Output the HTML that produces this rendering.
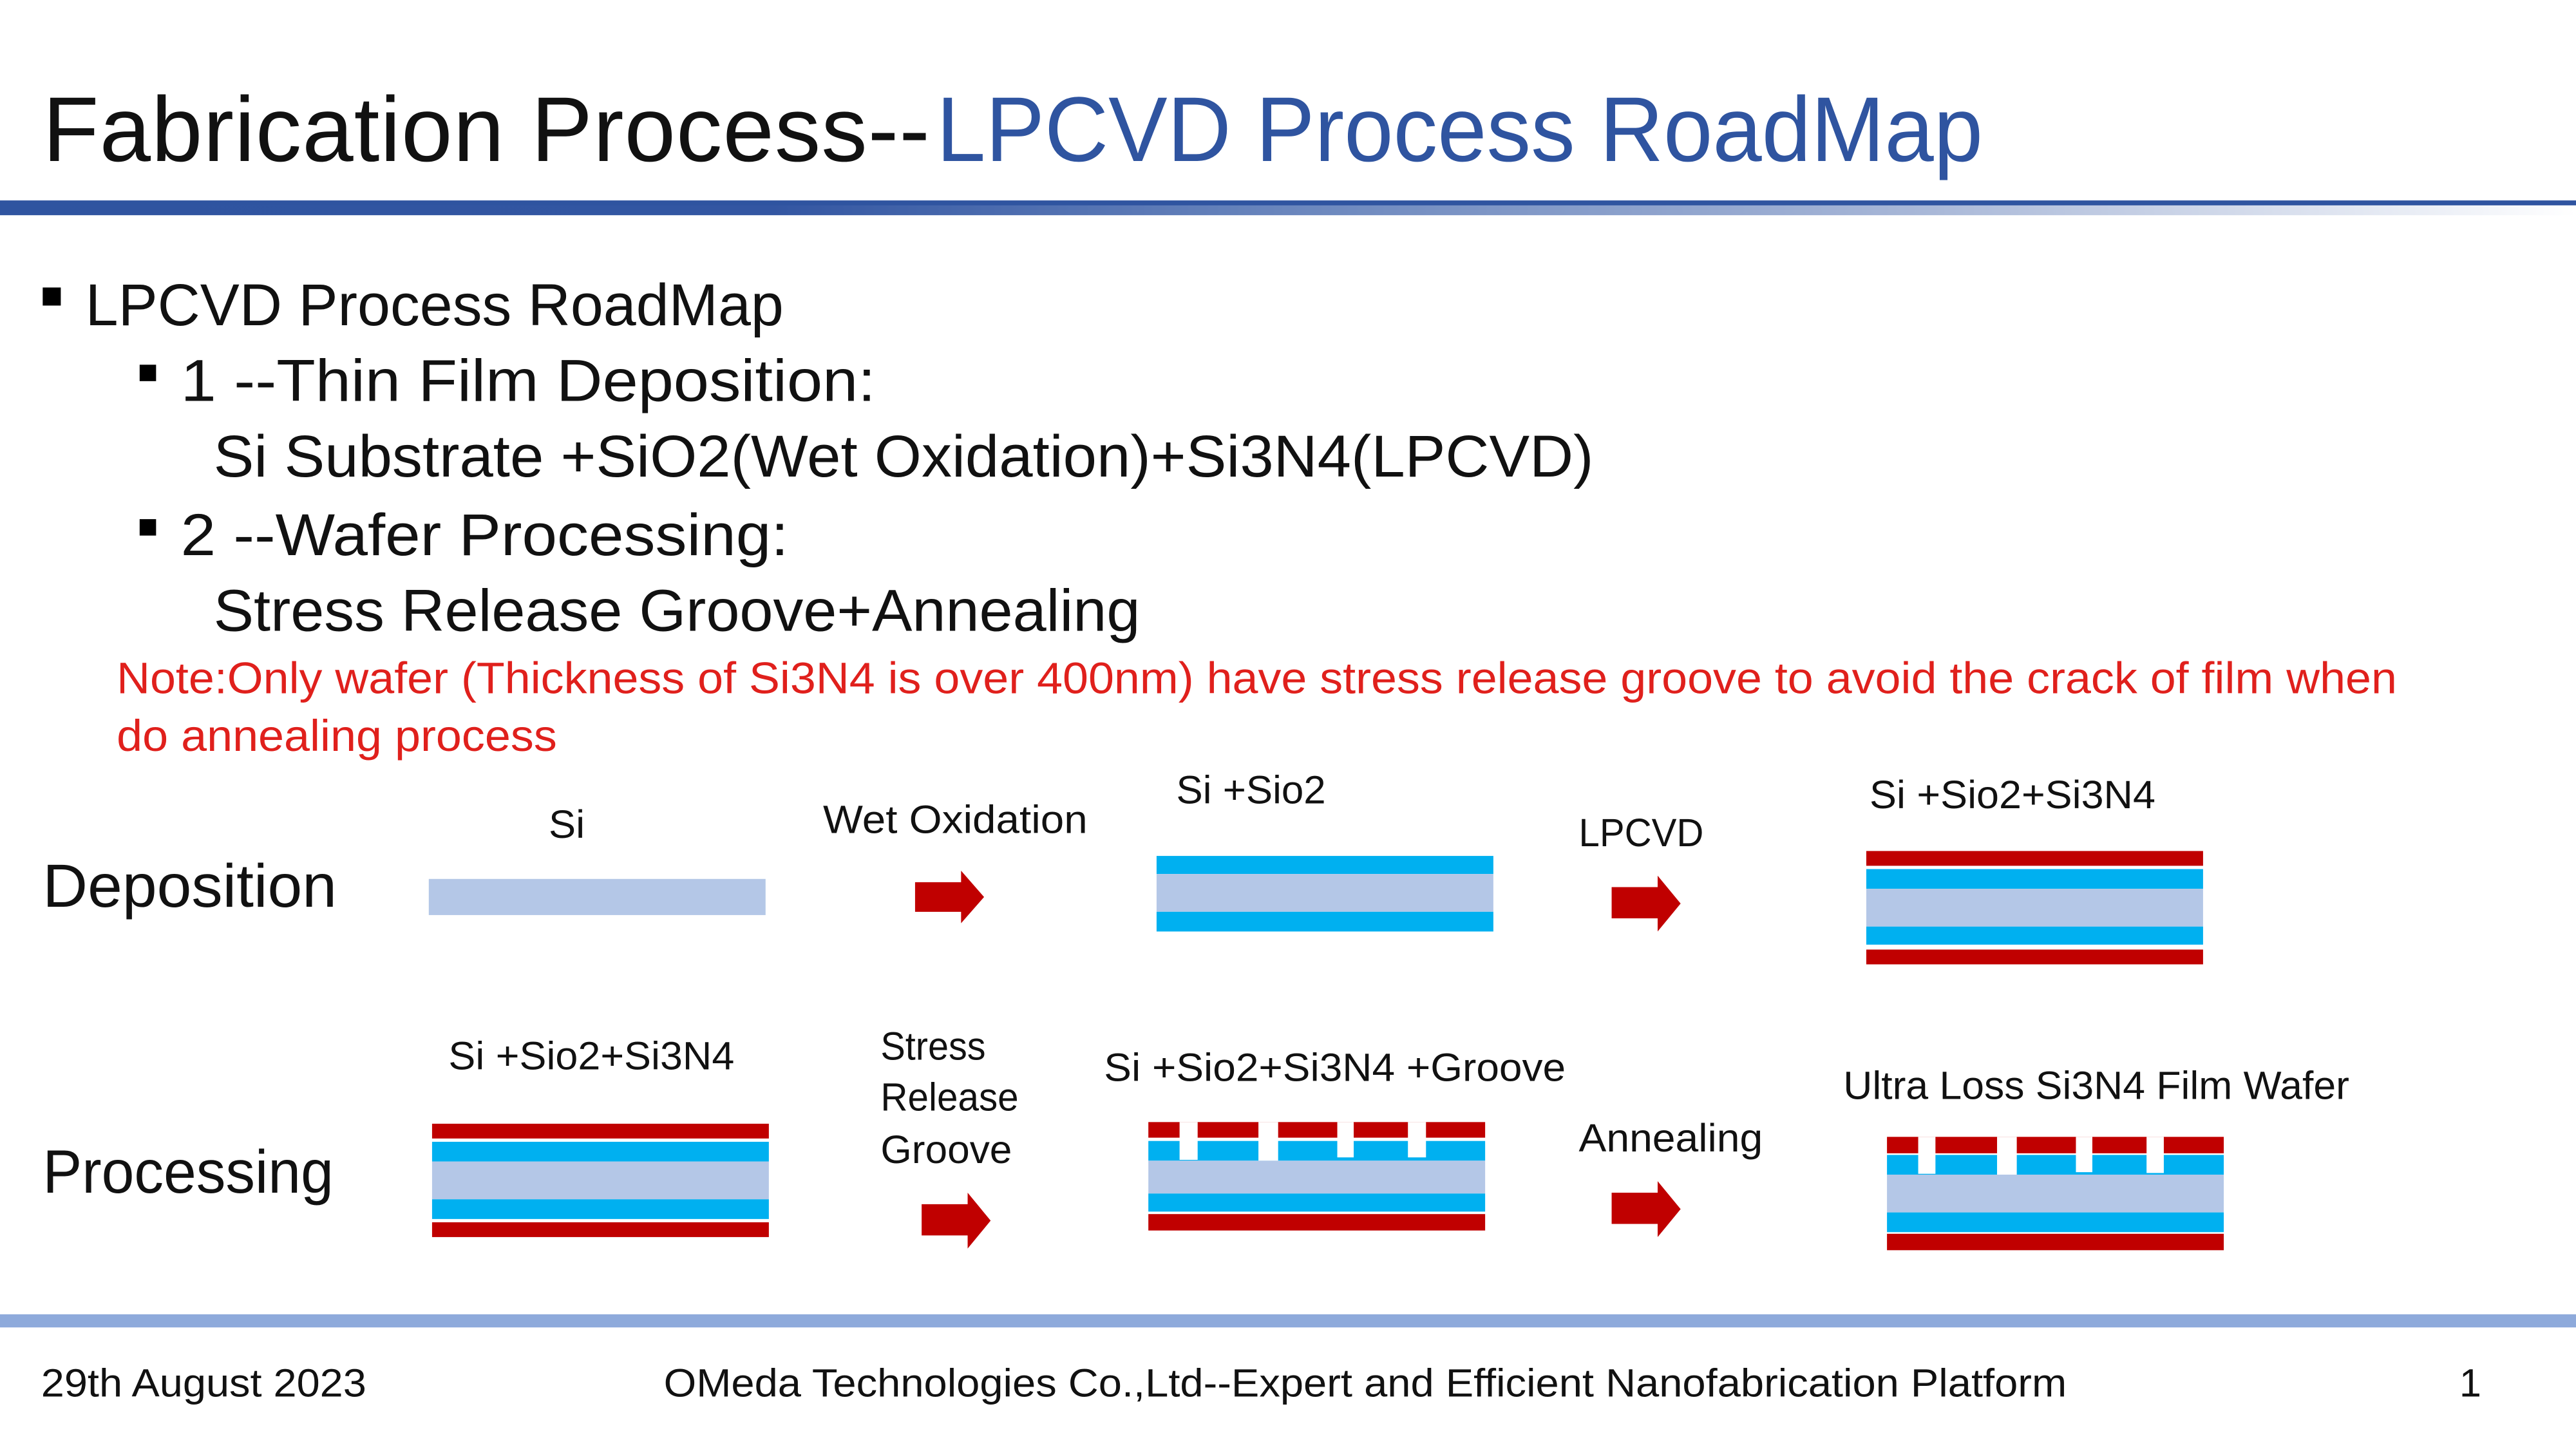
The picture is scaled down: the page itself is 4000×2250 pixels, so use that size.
<!DOCTYPE html>
<html><head><meta charset="utf-8"><style>html,body{margin:0;padding:0;background:#fff}svg{display:block}</style></head>
<body>
<svg width="4000" height="2250" viewBox="0 0 1568 882" xmlns="http://www.w3.org/2000/svg" font-family="'Liberation Sans', sans-serif">
<defs>
<linearGradient id="hg" x1="0" x2="1" y1="0" y2="0">
<stop offset="0" stop-color="#2f54a0"/><stop offset="0.3" stop-color="#3356a2"/><stop offset="0.5" stop-color="#6a86bd"/><stop offset="0.75" stop-color="#a9b8d8"/><stop offset="1" stop-color="#ffffff"/>
</linearGradient>
</defs>
<rect width="1568" height="882" fill="#fff"/>
<text x="26" y="98" font-size="56" fill="#111" textLength="540" lengthAdjust="spacing">Fabrication Process--</text>
<text x="570" y="98" font-size="56" fill="#2f54a0" textLength="637" lengthAdjust="spacingAndGlyphs">LPCVD Process RoadMap</text>
<rect x="0" y="122" width="1568" height="4" fill="#2f54a0"/>
<rect x="0" y="125" width="1568" height="6" fill="url(#hg)"/>

<rect x="26" y="175" width="11" height="11" fill="#000"/>
<text x="52" y="198" font-size="36" fill="#111" textLength="425" lengthAdjust="spacingAndGlyphs">LPCVD Process RoadMap</text>
<rect x="85" y="222" width="10" height="10" fill="#000"/>
<text x="110" y="244" font-size="36" fill="#111" textLength="423" lengthAdjust="spacingAndGlyphs">1 --Thin Film Deposition:</text>
<text x="130" y="290" font-size="36" fill="#111" textLength="840" lengthAdjust="spacingAndGlyphs">Si Substrate +SiO2(Wet Oxidation)+Si3N4(LPCVD)</text>
<rect x="85" y="316" width="10" height="10" fill="#000"/>
<text x="110" y="338" font-size="36" fill="#111" textLength="370" lengthAdjust="spacingAndGlyphs">2 --Wafer Processing:</text>
<text x="130" y="384" font-size="36" fill="#111" textLength="564" lengthAdjust="spacingAndGlyphs">Stress Release Groove+Annealing</text>
<text x="71" y="422" font-size="27" fill="#e0201c" textLength="1388" lengthAdjust="spacingAndGlyphs">Note:Only wafer (Thickness of Si3N4 is over 400nm) have stress release groove to avoid the crack of film when</text>
<text x="71" y="457" font-size="27" fill="#e0201c" textLength="268" lengthAdjust="spacingAndGlyphs">do annealing process</text>

<text x="26" y="552" font-size="37" fill="#111" textLength="179" lengthAdjust="spacingAndGlyphs">Deposition</text>
<text x="26" y="726" font-size="37" fill="#111" textLength="177" lengthAdjust="spacingAndGlyphs">Processing</text>

<g font-size="24" fill="#111">
<text x="334" y="510" textLength="22" lengthAdjust="spacingAndGlyphs">Si</text>
<text x="501" y="507" textLength="161" lengthAdjust="spacingAndGlyphs">Wet Oxidation</text>
<text x="716" y="489" textLength="91" lengthAdjust="spacingAndGlyphs">Si +Sio2</text>
<text x="961" y="515" textLength="76" lengthAdjust="spacingAndGlyphs">LPCVD</text>
<text x="1138" y="492" textLength="174" lengthAdjust="spacingAndGlyphs">Si +Sio2+Si3N4</text>
<text x="273" y="651" textLength="174" lengthAdjust="spacingAndGlyphs">Si +Sio2+Si3N4</text>
<text x="536" y="645" textLength="64" lengthAdjust="spacingAndGlyphs">Stress</text>
<text x="536" y="676" textLength="84" lengthAdjust="spacingAndGlyphs">Release</text>
<text x="536" y="708" textLength="80" lengthAdjust="spacingAndGlyphs">Groove</text>
<text x="672" y="658" textLength="281" lengthAdjust="spacingAndGlyphs">Si +Sio2+Si3N4 +Groove</text>
<text x="961" y="701" textLength="112" lengthAdjust="spacingAndGlyphs">Annealing</text>
<text x="1122" y="669" textLength="308" lengthAdjust="spacingAndGlyphs">Ultra Loss Si3N4 Film Wafer</text>
</g>

<rect x="261" y="535" width="205" height="22" fill="#b4c7e7"/>
<rect x="704" y="521" width="205" height="11" fill="#00b0f0"/>
<rect x="704" y="532" width="205" height="23" fill="#b4c7e7"/>
<rect x="704" y="555" width="205" height="12" fill="#00b0f0"/>
<rect x="1136" y="518" width="205" height="9" fill="#c00000"/>
<rect x="1136" y="529" width="205" height="12" fill="#00b0f0"/>
<rect x="1136" y="541" width="205" height="23" fill="#b4c7e7"/>
<rect x="1136" y="564" width="205" height="11" fill="#00b0f0"/>
<rect x="1136" y="578" width="205" height="9" fill="#c00000"/>
<rect x="263" y="684" width="205" height="9" fill="#c00000"/>
<rect x="263" y="695" width="205" height="12" fill="#00b0f0"/>
<rect x="263" y="707" width="205" height="23" fill="#b4c7e7"/>
<rect x="263" y="730" width="205" height="12" fill="#00b0f0"/>
<rect x="263" y="744" width="205" height="9" fill="#c00000"/>
<g transform="translate(699,0)">
<rect x="0" y="683" width="205" height="9.5" fill="#c00000"/>
<rect x="0" y="694.5" width="205" height="12" fill="#00b0f0"/>
<rect x="0" y="706.5" width="205" height="20" fill="#b4c7e7"/>
<rect x="0" y="726.5" width="205" height="11" fill="#00b0f0"/>
<rect x="0" y="739" width="205" height="10" fill="#c00000"/>
<rect x="19" y="683" width="11" height="23" fill="#fff"/>
<rect x="67" y="683" width="12" height="23.5" fill="#fff"/>
<rect x="115" y="683" width="10" height="21.5" fill="#fff"/>
<rect x="158" y="683" width="11" height="21.5" fill="#fff"/>
</g>
<g transform="translate(1148.6,0)">
<rect x="0" y="692" width="205" height="10" fill="#c00000"/>
<rect x="0" y="703" width="205" height="12" fill="#00b0f0"/>
<rect x="0" y="715" width="205" height="23" fill="#b4c7e7"/>
<rect x="0" y="738" width="205" height="12" fill="#00b0f0"/>
<rect x="0" y="751" width="205" height="10" fill="#c00000"/>
<rect x="19" y="692" width="10.5" height="22.5" fill="#fff"/>
<rect x="67" y="692" width="12" height="23" fill="#fff"/>
<rect x="115" y="692" width="10" height="21.5" fill="#fff"/>
<rect x="158" y="692" width="10.5" height="22" fill="#fff"/>
</g>
<g fill="#c00000">
<polygon points="557,537 585,537 585,530 599,546 585,562 585,555 557,555"/>
<polygon points="981,540 1009,540 1009,533 1023,550 1009,567 1009,559 981,559"/>
<polygon points="561,733 589,733 589,726 603,743 589,760 589,752 561,752"/>
<polygon points="981,726 1009,726 1009,719 1023,736 1009,753 1009,745 981,745"/>
</g>

<rect x="0" y="800" width="1568" height="8" fill="#8eaadb"/>
<g font-size="24" fill="#111">
<text x="25" y="850" textLength="198" lengthAdjust="spacingAndGlyphs">29th August 2023</text>
<text x="404" y="850" textLength="854" lengthAdjust="spacingAndGlyphs">OMeda Technologies Co.,Ltd--Expert and Efficient Nanofabrication Platform</text>
<text x="1497" y="850">1</text>
</g>
</svg>
</body></html>
